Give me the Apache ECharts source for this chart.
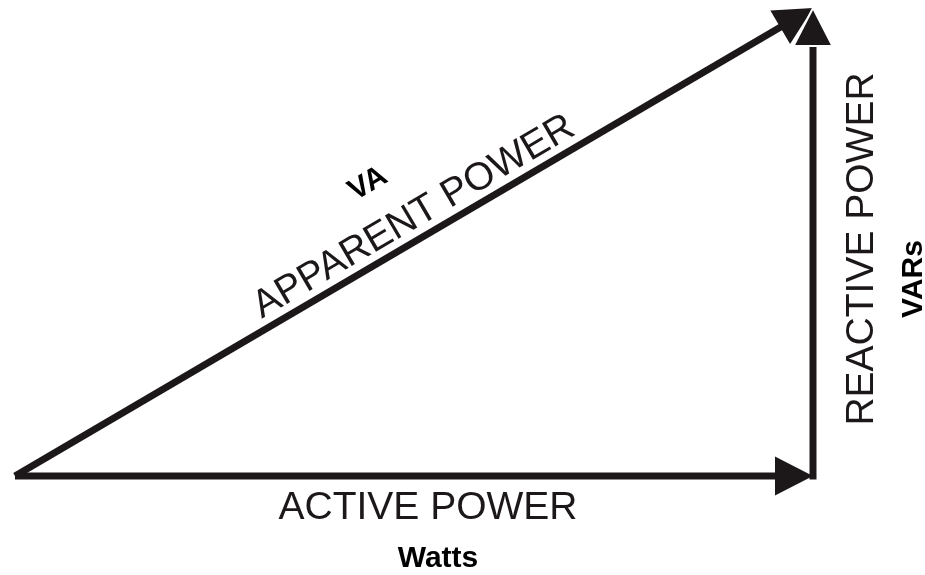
<!DOCTYPE html>
<html>
<head>
<meta charset="utf-8">
<script src="https://cdn.jsdelivr.net/npm/echarts@6/dist/echarts.min.js"></script>
<style>html,body{margin:0;padding:0;background:#fff}#c{width:925px;height:575px}</style>
</head>
<body>
<div id="c"></div>
<script>
// Power triangle values (relative units)
const activePower = 100;      // Watts (horizontal)
const reactivePower = 58.6;   // VARs (vertical)
const vectorNames = ['ACTIVE POWER', 'REACTIVE POWER', 'APPARENT POWER'];
const vectorUnits = ['Watts', 'VARs', 'VA'];
const vectorStart = [[0, 0], [activePower, 0], [0, 0]];
const vectorEnd = [[activePower, 0], [activePower, reactivePower], [activePower, reactivePower]];

const INK = '#1c1819';
const chart = echarts.init(document.getElementById('c'), null, {renderer: 'canvas'});

const data = vectorStart.map((s, i) => [s[0], s[1], vectorEnd[i][0], vectorEnd[i][1], i]);
// draw order: active, apparent, reactive (reactive head on top)
const order = [0, 2, 1];

function renderItem(params, api) {
  const p0 = api.coord([api.value(0), api.value(1)]);
  const p1 = api.coord([api.value(2), api.value(3)]);
  const idx = api.value(4);
  const dx = p1[0] - p0[0], dy = p1[1] - p0[1];
  const len = Math.sqrt(dx * dx + dy * dy);
  const ux = dx / len, uy = dy / len;
  const nx = -uy, ny = ux;
  const L = 38, W = 19.5;
  const bx = p1[0] - ux * L, by = p1[1] - uy * L;
  const startExt = idx === 1 ? 3.5 : 0;
  return {
    type: 'group',
    children: [
      {type: 'line', shape: {x1: p0[0] - ux * startExt, y1: p0[1] - uy * startExt, x2: bx + ux * 4, y2: by + uy * 4},
       style: {stroke: INK, lineWidth: 7, lineCap: 'butt'}},
      {type: 'polygon', shape: {points: [[p1[0], p1[1]], [bx + nx * W, by + ny * W], [bx - nx * W, by - ny * W]]},
       style: {fill: INK, stroke: idx === 1 ? '#fff' : null, lineWidth: idx === 1 ? 2 : 0, lineJoin: 'miter'}}
    ]
  };
}

const angle = Math.atan2((575 - 8 - 99), (925 - 15 - 112)); // hypotenuse slope in px

chart.setOption({
  animation: false,
  grid: {left: 15, right: 112, top: 8, bottom: 99},
  xAxis: {type: 'value', min: 0, max: activePower, show: false},
  yAxis: {type: 'value', min: 0, max: reactivePower, show: false},
  series: [{
    type: 'custom',
    renderItem: renderItem,
    data: order.map(i => data[i]),
    encode: {x: [0, 2], y: [1, 3]},
    silent: true
  }],
  graphic: [
    {type: 'text', x: 428, y: 508, style: {text: vectorNames[0], font: '39px "Liberation Sans", Arial, sans-serif', fill: INK, textAlign: 'center', textVerticalAlign: 'middle'}},
    {type: 'text', x: 438, y: 559, style: {text: vectorUnits[0], font: 'bold 30px "Liberation Sans", Arial, sans-serif', fill: '#000', textAlign: 'center', textVerticalAlign: 'middle'}},
    {type: 'text', x: 862, y: 249, rotation: Math.PI / 2, style: {text: vectorNames[1], font: '39px "Liberation Sans", Arial, sans-serif', fill: INK, textAlign: 'center', textVerticalAlign: 'middle'}},
    {type: 'text', x: 914, y: 279, rotation: Math.PI / 2, style: {text: vectorUnits[1], font: 'bold 30px "Liberation Sans", Arial, sans-serif', fill: '#000', textAlign: 'center', textVerticalAlign: 'middle'}},
    {type: 'text', x: 414, y: 217, rotation: angle, style: {text: vectorNames[2], font: '39px "Liberation Sans", Arial, sans-serif', fill: INK, textAlign: 'center', textVerticalAlign: 'middle'}},
    {type: 'text', x: 368, y: 184, rotation: angle, style: {text: vectorUnits[2], font: 'bold 30px "Liberation Sans", Arial, sans-serif', fill: '#000', textAlign: 'center', textVerticalAlign: 'middle'}}
  ]
});
</script>
</body>
</html>
